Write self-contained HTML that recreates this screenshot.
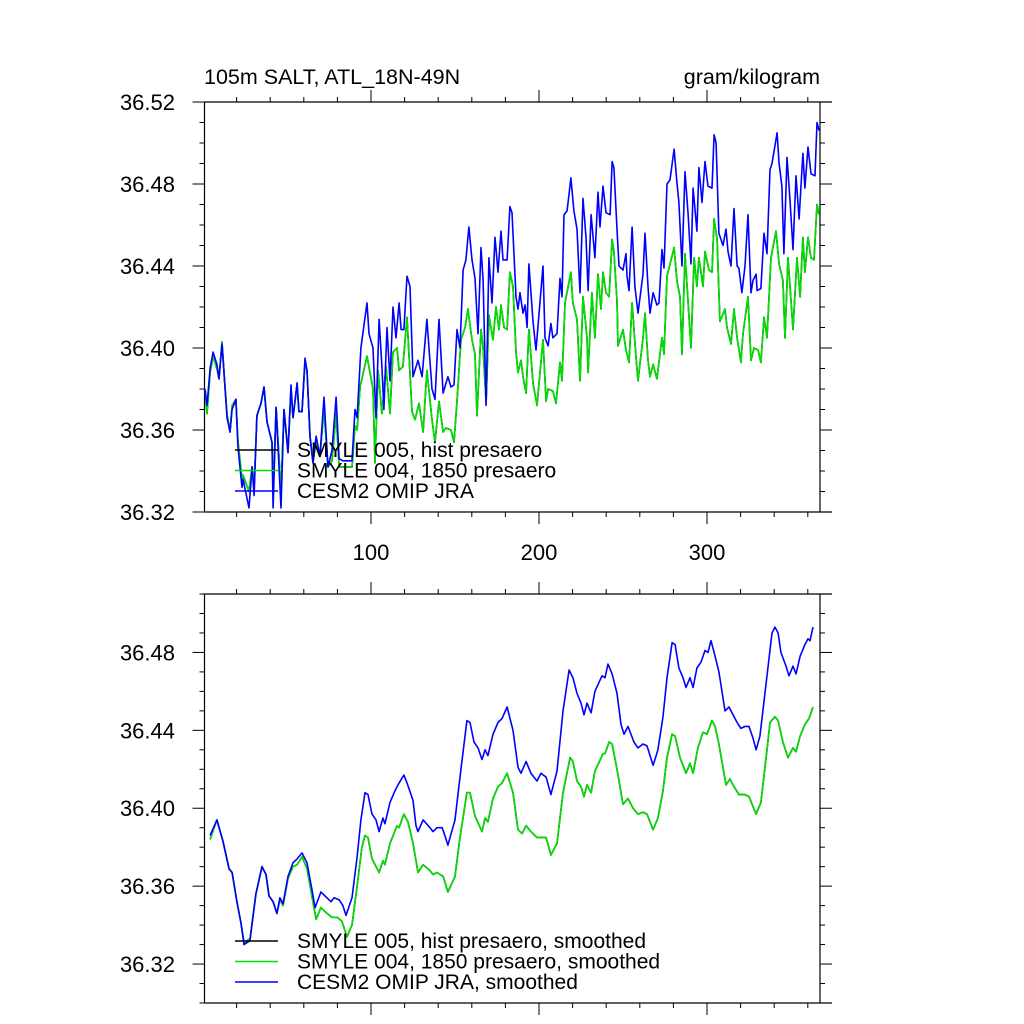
<!DOCTYPE html>
<html><head><meta charset="utf-8"><style>
html,body{margin:0;padding:0;background:#fff;}
svg{display:block;font-family:"Liberation Sans",sans-serif;}
</style></head><body>
<svg id="chart" width="1024" height="1024" viewBox="0 0 1024 1024"></svg>
<script>
// ---- Top panel data (monthly) ----
const topBlueX=[1.2,2.4,4.2,6.0,8.3,9.5,11.3,13.1,14.3,16.1,17.3,19.6,20.8,23.2,23.8,27.4,29.2,30.4,32.1,34.5,36.3,38.1,41.1,41.7,43.5,46.4,48.2,50.6,52.4,53.6,56.0,57.1,58.9,60.7,61.9,63.7,65.5,67.3,69.6,72.0,74.4,76.8,79.2,81.0,83.3,88.7,90.5,91.7,94.0,97.6,98.8,101.2,103.0,104.8,106.5,107.7,109.5,111.3,113.1,114.9,116.7,117.9,119.6,121.4,123.2,125.0,128.0,130.4,133.3,136.3,138.1,140.5,142.9,145.8,147.6,149.4,151.2,153.0,154.8,156.5,158.3,160.1,161.9,163.7,165.5,166.7,168.5,170.2,172.0,173.8,175.6,177.4,178.6,181.0,182.7,183.9,186.3,187.5,188.7,190.5,191.7,192.9,194.0,196.4,198.2,202.4,203.6,205.4,207.1,208.3,210.7,212.5,213.7,214.9,216.7,219.0,220.8,222.6,224.4,226.2,228.0,229.2,231.0,233.3,235.1,236.3,238.1,239.9,242.3,243.5,244.6,246.4,247.6,250.0,251.8,252.4,253.6,255.4,257.1,258.9,261.9,263.1,264.9,266.1,267.9,270.2,271.4,273.2,274.4,276.2,278.0,280.4,282.1,283.3,285.1,286.9,288.7,290.5,291.7,294.0,295.2,297.0,298.8,300.6,303.0,304.2,305.4,307.1,309.5,311.3,312.5,314.3,316.1,317.9,319.0,320.8,322.6,324.4,326.2,327.4,329.2,329.8,332.1,333.9,335.7,337.5,338.7,341.7,342.9,344.6,345.8,347.6,349.4,351.2,353.0,354.8,357.1,358.3,360.1,361.9,364.3,365.5,366.7];
const topBlueY=[36.380,36.372,36.390,36.398,36.392,36.385,36.402,36.381,36.366,36.359,36.370,36.375,36.352,36.332,36.336,36.322,36.342,36.328,36.367,36.373,36.381,36.364,36.354,36.322,36.371,36.322,36.370,36.349,36.382,36.366,36.383,36.369,36.369,36.395,36.389,36.357,36.344,36.357,36.347,36.376,36.342,36.350,36.376,36.346,36.345,36.345,36.370,36.366,36.400,36.422,36.407,36.400,36.366,36.414,36.391,36.370,36.410,36.384,36.420,36.405,36.422,36.409,36.409,36.435,36.430,36.386,36.394,36.386,36.414,36.380,36.375,36.414,36.378,36.386,36.381,36.382,36.409,36.400,36.438,36.443,36.459,36.443,36.434,36.407,36.449,36.433,36.372,36.444,36.422,36.454,36.437,36.457,36.443,36.443,36.469,36.466,36.425,36.419,36.427,36.417,36.421,36.410,36.441,36.413,36.399,36.440,36.405,36.401,36.412,36.405,36.407,36.434,36.425,36.465,36.467,36.483,36.467,36.458,36.427,36.473,36.454,36.428,36.465,36.444,36.476,36.459,36.479,36.466,36.465,36.491,36.488,36.458,36.440,36.438,36.446,36.435,36.428,36.459,36.430,36.417,36.436,36.456,36.430,36.417,36.427,36.421,36.422,36.448,36.439,36.480,36.482,36.497,36.481,36.471,36.440,36.486,36.466,36.441,36.478,36.457,36.488,36.471,36.491,36.479,36.478,36.504,36.500,36.456,36.450,36.458,36.447,36.440,36.468,36.440,36.439,36.427,36.440,36.465,36.427,36.433,36.436,36.428,36.429,36.456,36.446,36.487,36.490,36.505,36.490,36.479,36.446,36.493,36.472,36.448,36.484,36.463,36.495,36.478,36.498,36.485,36.484,36.510,36.506];
const topGreenX=[1.2,2.4,4.2,6.0,8.3,9.5,11.3,13.1,14.3,16.1,17.3,19.6,20.8,23.2,23.8,27.4,29.2,30.4,32.1,34.5,36.3,38.1,41.1,41.7,43.5,46.4,48.2,50.6,52.4,53.6,56.0,57.1,58.9,60.7,61.9,63.7,65.5,67.3,69.6,72.0,74.4,76.8,79.2,81.0,83.3,88.7,90.5,91.7,93.5,97.6,101.2,102.4,104.2,106.5,108.9,111.3,113.1,115.5,116.7,119.0,121.4,124.4,126.2,128.6,131.0,133.3,136.3,138.1,140.5,142.9,144.6,147.6,149.4,151.2,153.6,156.0,157.7,160.1,161.9,163.1,165.5,166.7,168.5,170.2,172.6,174.4,176.2,177.4,179.2,181.0,182.7,184.5,186.3,187.5,189.3,190.5,192.3,194.0,196.4,198.8,202.4,204.2,205.4,208.3,210.1,212.5,213.7,215.5,219.0,220.2,222.6,224.4,226.2,228.6,229.2,231.5,233.3,235.1,236.9,238.1,239.9,241.7,243.5,244.6,246.4,247.0,250.0,251.8,253.6,255.4,257.7,258.9,261.9,263.1,264.9,266.1,267.9,270.2,273.2,274.4,276.2,280.4,282.1,283.9,285.1,286.9,288.7,290.5,292.3,294.0,295.2,297.6,298.8,301.2,303.0,304.2,306.0,307.7,310.7,311.9,314.3,316.1,317.9,320.2,321.4,324.4,326.2,328.0,330.4,332.1,333.9,335.7,338.1,341.1,342.9,345.2,346.4,348.2,351.2,353.6,355.4,357.1,358.3,360.1,361.9,363.7,365.5,366.7];
const topGreenY=[36.380,36.368,36.388,36.396,36.390,36.385,36.403,36.381,36.368,36.359,36.372,36.375,36.355,36.336,36.338,36.330,36.342,36.332,36.367,36.373,36.381,36.364,36.354,36.330,36.371,36.330,36.370,36.349,36.380,36.366,36.382,36.369,36.369,36.393,36.389,36.357,36.344,36.355,36.347,36.370,36.342,36.345,36.368,36.342,36.342,36.342,36.362,36.360,36.381,36.396,36.380,36.344,36.389,36.368,36.391,36.368,36.398,36.400,36.389,36.391,36.415,36.369,36.365,36.373,36.359,36.389,36.365,36.354,36.374,36.359,36.361,36.360,36.354,36.374,36.404,36.410,36.419,36.404,36.397,36.367,36.409,36.400,36.373,36.416,36.404,36.420,36.409,36.421,36.410,36.409,36.437,36.430,36.398,36.388,36.394,36.386,36.378,36.409,36.383,36.372,36.404,36.374,36.380,36.379,36.373,36.393,36.384,36.422,36.437,36.422,36.414,36.384,36.425,36.405,36.388,36.427,36.405,36.436,36.419,36.437,36.427,36.425,36.453,36.447,36.423,36.401,36.409,36.399,36.393,36.422,36.396,36.384,36.405,36.417,36.394,36.386,36.392,36.385,36.405,36.397,36.435,36.449,36.433,36.425,36.397,36.446,36.423,36.400,36.444,36.430,36.444,36.430,36.447,36.438,36.437,36.463,36.453,36.413,36.419,36.410,36.402,36.419,36.405,36.393,36.407,36.425,36.394,36.400,36.399,36.393,36.415,36.405,36.444,36.457,36.441,36.433,36.405,36.444,36.409,36.444,36.425,36.454,36.437,36.454,36.444,36.443,36.470,36.465];
// ---- Bottom panel data (smoothed) ----
const botBlueX=[4.2,8.3,11.9,15.5,17.3,20.2,22.6,24.4,28.0,31.5,35.1,37.5,39.3,41.7,44.0,45.8,47.6,50.6,53.6,56.0,58.9,61.9,64.9,66.7,70.2,72.6,76.2,78.0,81.0,83.3,85.1,88.7,91.7,94.0,96.4,98.2,100.6,103.0,104.8,107.1,108.3,111.3,114.3,116.7,119.6,121.4,125.0,126.8,128.0,131.0,135.1,136.9,139.3,142.3,144.0,145.8,150.0,153.0,157.1,158.9,161.3,163.7,166.1,167.9,169.6,172.6,175.6,178.0,181.0,184.5,187.5,189.3,192.3,195.2,198.8,201.2,204.2,207.1,210.7,214.3,217.9,220.2,222.6,225.0,226.8,228.6,231.0,233.3,237.5,239.3,241.1,243.5,246.4,248.8,250.6,253.0,256.5,258.9,261.9,264.3,267.9,270.8,273.8,276.2,279.2,281.0,283.3,285.7,287.5,289.9,291.7,294.0,296.4,298.8,300.6,302.4,304.8,307.1,310.7,313.1,315.5,317.9,320.2,322.6,325.0,327.4,329.2,331.5,335.7,338.7,340.5,342.3,344.0,347.0,348.8,351.2,353.0,355.4,358.3,360.1,361.3,363.1];
const botBlueY=[36.386,36.394,36.383,36.369,36.367,36.352,36.341,36.330,36.332,36.356,36.370,36.366,36.355,36.352,36.346,36.354,36.351,36.365,36.372,36.374,36.377,36.372,36.358,36.349,36.357,36.355,36.352,36.354,36.353,36.350,36.345,36.354,36.375,36.394,36.408,36.407,36.397,36.394,36.388,36.395,36.392,36.403,36.409,36.413,36.417,36.413,36.404,36.391,36.388,36.394,36.390,36.388,36.390,36.390,36.386,36.381,36.394,36.416,36.445,36.444,36.434,36.431,36.425,36.430,36.427,36.438,36.444,36.446,36.452,36.440,36.421,36.418,36.424,36.418,36.414,36.418,36.416,36.407,36.419,36.450,36.471,36.467,36.459,36.454,36.448,36.454,36.449,36.460,36.468,36.467,36.474,36.469,36.459,36.443,36.438,36.442,36.434,36.431,36.433,36.432,36.422,36.430,36.447,36.467,36.485,36.484,36.472,36.467,36.462,36.467,36.462,36.472,36.475,36.481,36.480,36.486,36.478,36.470,36.450,36.452,36.448,36.444,36.441,36.442,36.442,36.436,36.430,36.437,36.468,36.490,36.493,36.490,36.480,36.473,36.468,36.473,36.469,36.478,36.484,36.487,36.486,36.493];
const botGreenX=[4.2,8.3,11.9,15.5,17.3,20.2,22.6,24.4,28.0,31.5,35.1,37.5,39.3,41.7,44.0,45.8,47.6,50.6,53.6,56.0,58.9,61.9,67.3,70.2,73.8,76.8,79.8,82.7,85.7,88.7,91.7,94.6,96.4,98.2,100.6,104.8,107.1,108.3,111.3,115.5,116.7,119.6,122.0,125.0,128.0,131.0,135.1,136.9,139.3,142.9,145.8,150.0,153.0,157.1,158.9,161.9,166.1,167.9,169.6,172.6,175.6,178.0,181.0,184.5,187.5,189.9,192.3,195.2,198.8,201.2,204.2,207.1,210.7,214.3,218.5,220.2,222.6,225.0,226.8,228.6,231.0,233.3,238.1,239.3,241.7,243.5,246.4,250.0,253.0,256.0,258.9,261.9,264.3,267.9,270.8,273.8,276.2,279.2,281.0,283.9,287.5,289.9,291.7,294.6,297.6,300.0,303.0,304.8,307.1,311.3,313.7,315.5,319.0,322.6,325.0,329.2,332.1,335.7,337.5,340.5,342.3,345.2,348.2,351.2,353.0,355.4,358.3,360.7,363.1];
const botGreenY=[36.384,36.394,36.383,36.369,36.367,36.352,36.341,36.331,36.333,36.356,36.370,36.366,36.355,36.352,36.346,36.353,36.350,36.364,36.370,36.371,36.375,36.369,36.343,36.349,36.346,36.344,36.344,36.342,36.334,36.340,36.360,36.380,36.386,36.385,36.374,36.367,36.373,36.371,36.382,36.391,36.390,36.397,36.393,36.382,36.367,36.371,36.368,36.366,36.367,36.365,36.357,36.365,36.385,36.408,36.408,36.396,36.388,36.395,36.393,36.405,36.411,36.413,36.418,36.408,36.389,36.387,36.391,36.388,36.385,36.385,36.385,36.376,36.382,36.408,36.426,36.424,36.414,36.411,36.406,36.412,36.408,36.419,36.428,36.428,36.434,36.433,36.420,36.402,36.405,36.400,36.397,36.398,36.397,36.389,36.395,36.409,36.426,36.438,36.437,36.426,36.418,36.423,36.418,36.431,36.439,36.438,36.445,36.442,36.433,36.412,36.415,36.412,36.407,36.407,36.406,36.397,36.403,36.430,36.444,36.447,36.445,36.434,36.426,36.431,36.429,36.437,36.443,36.446,36.452];
const topYTicks=["36.32","36.36","36.40","36.44","36.48","36.52"];
const botYTicks=["36.32","36.36","36.40","36.44","36.48"];
const xTickLabels=["100","200","300"];
const legendTop=["SMYLE 005, hist presaero","SMYLE 004, 1850 presaero","CESM2 OMIP JRA"];
const legendBot=["SMYLE 005, hist presaero, smoothed","SMYLE 004, 1850 presaero, smoothed","CESM2 OMIP JRA, smoothed"];

const NS="http://www.w3.org/2000/svg";
const svg=document.getElementById('chart');
function mk(tag,attrs,parent){const e=document.createElementNS(NS,tag);for(const k in attrs)e.setAttribute(k,attrs[k]);(parent||svg).appendChild(e);return e;}
const xs=v=>203+v*1.68;
const L=204.5,R=820,XR=832;

function panel(name,ptop,bottom,ymin,ymax,yTicks,showXLabels){
  const g=mk('g',{});
  
  
  const ys=v=>bottom-(v-ymin)/(ymax-ymin)*(bottom-ptop);
  const fr=mk('path',{d:`M${L},${ptop}H${XR}M${L},${bottom}H${XR}M${L},${ptop}V${bottom}M${R},${ptop}V${bottom}`,stroke:'#000','stroke-width':1.2,fill:'none'},g);
  
  
  for(let v=20;v<=360;v+=20){
    const x=xs(v);const maj=v%100===0;const len=maj?12:5;
    mk('line',{x1:x,x2:x,y1:bottom,y2:bottom+len,stroke:'#000','stroke-width':1},g);
    mk('line',{x1:x,x2:x,y1:ptop,y2:ptop-len,stroke:'#000','stroke-width':1},g);
  }
  if(showXLabels){
    xTickLabels.forEach(s=>{
      const t=mk('text',{x:xs(+s),y:bottom+48,'text-anchor':'middle','font-size':22},g);t.textContent=s;
      
      
    });
  }
  for(let i=0;;i++){
    const v=ymin+i*0.01; if(v>ymax+1e-9)break;
    const y=ys(v);const maj=Math.round(v*100)%4===0;const len=maj?12:5;
    if(y<ptop-0.5||y>bottom+0.5)continue;
    mk('line',{x1:L,x2:L-len,y1:y,y2:y,stroke:'#000','stroke-width':1},g);
    mk('line',{x1:R,x2:R+len,y1:y,y2:y,stroke:'#000','stroke-width':1},g);
  }
  yTicks.forEach(s=>{
    const t=mk('text',{x:175,y:ys(+s)+8,'text-anchor':'end','font-size':22},g);t.textContent=s;
    
    
  });
  return {g,ys};
}
function series(p,X,Y,color,name){
  const d=X.map((x,i)=>(i?'L':'M')+xs(x).toFixed(1)+','+p.ys(Y[i]).toFixed(1)).join('');
  const e=mk('path',{d,stroke:color,'stroke-width':1.6,fill:'none','stroke-linejoin':'round'},p.g);
  
  
}
function legend(p,labels,y0,dy){
  const cols=['#000','#00e000','#0000ff'];
  labels.forEach((s,i)=>{
    const y=y0+i*dy;
    const l=mk('line',{x1:235,x2:278,y1:y,y2:y,stroke:cols[i],'stroke-width':1.6},p.g);
    
    
    const t=mk('text',{x:297,y:y+7,'font-size':21},p.g);t.textContent=s;
    
    
  });
}
const topP=panel('top-panel',102,512,36.32,36.52,topYTicks,true);
series(topP,topGreenX,topGreenY,'#000','series-smyle005');
series(topP,topGreenX,topGreenY,'#00e000','series-smyle004');
series(topP,topBlueX,topBlueY,'#0000ff','series-cesm2-omip');
legend(topP,legendTop,450,20.5);
const botP=panel('bottom-panel',594,1003,36.30,36.51,botYTicks,false);
series(botP,botGreenX,botGreenY,'#000','series-smyle005-smoothed');
series(botP,botGreenX,botGreenY,'#00e000','series-smyle004-smoothed');
series(botP,botBlueX,botBlueY,'#0000ff','series-cesm2-omip-smoothed');
legend(botP,legendBot,941,20.5);
const t1=mk('text',{x:204,y:84,'font-size':21.5});t1.textContent='105m SALT, ATL_18N-49N';


const t2=mk('text',{x:820,y:84,'font-size':21.5,'text-anchor':'end'});t2.textContent='gram/kilogram';


</script>
</body></html>
